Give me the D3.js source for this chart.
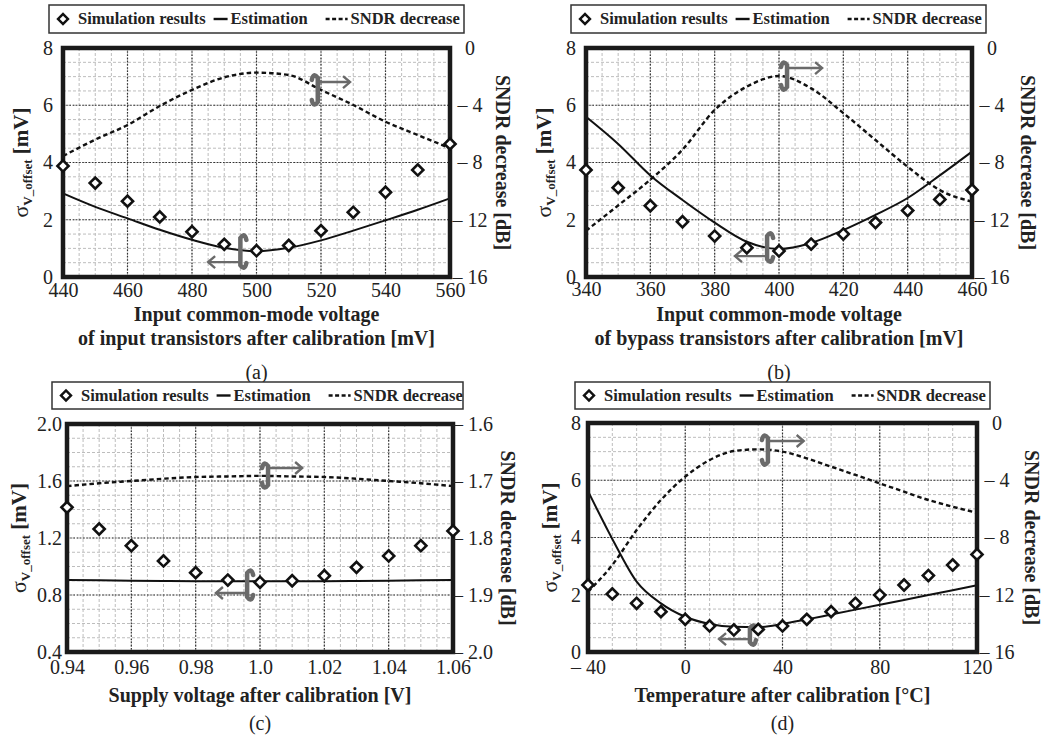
<!DOCTYPE html>
<html><head><meta charset="utf-8">
<script src="https://cdn.jsdelivr.net/npm/d3@7"></script>
<style>
body{margin:0;background:#fff}
svg{display:block}
text{font-family:"Liberation Serif","Times New Roman",serif;fill:#222}
</style>
</head><body>
<svg id="chart" width="1042" height="738"></svg>
<script>
// ---------- data ----------
// (a) input common-mode voltage of input transistors
const xA = [440,450,460,470,480,490,500,510,520,530,540,550,560];
const simA = [3.88,3.28,2.65,2.10,1.58,1.14,0.92,1.10,1.62,2.26,2.96,3.74,4.65];
const estA = [2.92,2.45,2.05,1.65,1.30,1.02,0.90,1.02,1.28,1.62,1.98,2.35,2.75];
const sndrA = [-7.55,-6.40,-5.38,-4.05,-2.93,-2.05,-1.72,-1.89,-2.93,-3.98,-5.15,-6.08,-7.00];
const xTicksA = [440,460,480,500,520,540,560];
const xLabelsA = ["440","460","480","500","520","540","560"];

// (b) input common-mode voltage of bypass transistors
const xB = [340,350,360,370,380,390,400,410,420,430,440,450,460];
const simB = [3.74,3.12,2.49,1.93,1.43,1.02,0.91,1.15,1.50,1.90,2.32,2.71,3.04];
const estB = [5.60,4.65,3.55,2.69,1.90,1.23,0.98,1.19,1.64,2.17,2.76,3.55,4.38];
const sndrB = [-12.77,-11.00,-9.20,-7.10,-4.33,-2.70,-1.96,-2.82,-4.55,-6.43,-8.30,-9.93,-10.74];
const xTicksB = [340,360,380,400,420,440,460];
const xLabelsB = ["340","360","380","400","420","440","460"];

// shared ticks for (a),(b),(d)
const yTicks8 = [0,2,4,6,8];
const yLabels8 = ["0","2","4","6","8"];
const rTicks16 = [0,-4,-8,-12,-16];
const rLabels16 = ["0","\u2013 4","\u2013 8","\u2013 12","\u2013 16"];

// (c) supply voltage
const xC = [0.94,0.95,0.96,0.97,0.98,0.99,1.00,1.01,1.02,1.03,1.04,1.05,1.06];
const simC = [1.415,1.263,1.146,1.039,0.957,0.905,0.889,0.900,0.935,0.994,1.074,1.146,1.250];
const estC = [0.905,0.903,0.900,0.898,0.897,0.896,0.896,0.896,0.897,0.898,0.900,0.903,0.905];
const sndrC = [-1.709,-1.704,-1.700,-1.696,-1.693,-1.692,-1.691,-1.692,-1.693,-1.696,-1.700,-1.704,-1.709];
const xTicksC = [0.94,0.96,0.98,1.00,1.02,1.04,1.06];
const xLabelsC = ["0.94","0.96","0.98","1.0","1.02","1.04","1.06"];
const yTicksC = [0.4,0.8,1.2,1.6,2.0];
const yLabelsC = ["0.4","0.8","1.2","1.6","2.0"];
const rTicksC = [-1.6,-1.7,-1.8,-1.9,-2.0];
const rLabelsC = ["\u2013 1.6","\u2013 1.7","\u2013 1.8","\u2013 1.9","\u2013 2.0"];

// (d) temperature
const xD = [-40,-30,-20,-10,0,10,20,30,40,50,60,70,80,90,100,110,120];
const simD = [2.34,2.03,1.70,1.41,1.14,0.91,0.77,0.79,0.91,1.14,1.41,1.70,1.99,2.34,2.67,3.04,3.41];
const estD = [5.62,3.95,2.46,1.70,1.23,0.98,0.88,0.87,0.98,1.14,1.31,1.48,1.65,1.82,1.99,2.16,2.33];
const sndrD = [-11.79,-9.92,-7.48,-5.38,-3.75,-2.59,-1.96,-1.84,-2.00,-2.47,-3.05,-3.63,-4.22,-4.80,-5.38,-5.85,-6.27];
const xTicksD = [-40,0,40,80,120];
const xLabelsD = ["\u2013 40","0","40","80","120"];

const legendLabels = ["Simulation results","Estimation","SNDR decrease"];

// ---------- layout ----------
// ind*: [x value, top y, bottom y, arrow y (left-axis units), arrow tip x value]
const panels = [
 {x:xA,sim:simA,est:estA,sndr:sndrA,L:63,R:450,T:48,B:277,xDom:[440,560],yDom:[0,8],rDom:[-16,0],
  xT:xTicksA,xL:xLabelsA,yT:yTicks8,yL:yLabels8,rT:rTicks16,rL:rLabels16,xMinor:5,yMinor:0.5,
  yPad:10,xPad:6,ltx:22,rtx:53,title:["Input common-mode voltage","of input transistors after calibration [mV]"],
  tY:[321,345],cap:"(a)",capY:379,leg:[49,5,415,28],
  indR:[519,7.06,6.01,6.81,529],indL:[495,1.47,0.31,0.52,485]},
 {x:xB,sim:simB,est:estB,sndr:sndrB,L:586,R:972,T:48,B:277,xDom:[340,460],yDom:[0,8],rDom:[-16,0],
  xT:xTicksB,xL:xLabelsB,yT:yTicks8,yL:yLabels8,rT:rTicks16,rL:rLabels16,xMinor:5,yMinor:0.5,
  yPad:10,xPad:5,ltx:545,rtx:56,title:["Input common-mode voltage","of bypass transistors after calibration [mV]"],
  tY:[321,345],cap:"(b)",capY:379,leg:[571,5,415,28],
  indR:[402.5,7.51,6.53,7.30,413.4],indL:[396.3,1.54,0.52,0.73,386.3]},
 {x:xC,sim:simC,est:estC,sndr:sndrC,L:67,R:453,T:424,B:652,xDom:[0.94,1.06],yDom:[0.4,2.0],rDom:[-2.0,-1.6],
  xT:xTicksC,xL:xLabelsC,yT:yTicksC,yL:yLabelsC,rT:rTicksC,rL:rLabelsC,xMinor:0.005,yMinor:0.1,
  yPad:5,xPad:8,ltx:20,rtx:55,title:["Supply voltage after calibration [V]"],
  tY:[702],cap:"(c)",capY:730,leg:[52,382,411,27],
  indR:[1.0025,1.726,1.551,1.691,1.0131],indL:[0.996,0.975,0.765,0.814,0.9863]},
 {x:xD,sim:simD,est:estD,sndr:sndrD,L:588,R:977,T:423,B:652,xDom:[-40,120],yDom:[0,8],rDom:[-16,0],
  xT:xTicksD,xL:xLabelsD,yT:yTicks8,yL:yLabels8,rT:rTicks16,rL:rLabels16,xMinor:10,yMinor:0.5,
  yPad:7,xPad:8,ltx:551,rtx:55,title:["Temperature after calibration [\u00b0C]"],
  tY:[702],cap:"(d)",capY:730,leg:[575,382,415,27],
  indR:[34,7.58,6.53,7.37,48.7],indL:[26.6,0.94,0.24,0.45,13.9]}
];

const svg = d3.select("#chart");
const GREY = "#6a6a6a";

function indicator(g, x, y0, y1, yA, xTip, dir){
  // dir = 1: arrow to the right (hooks to the left); -1: arrow to the left (hooks to the right)
  const h = -dir*6;
  g.append("path")
    .attr("d", `M${x+h},${y0+5} Q${x+h*0.7},${y0-3} ${x},${y0+3} L${x},${y1-3} Q${x+h*0.7},${y1+3} ${x+h},${y1-5}`)
    .attr("fill","none").attr("stroke",GREY).attr("stroke-width",4.5).attr("stroke-linecap","round");
  g.append("line").attr("x1",x).attr("x2",xTip).attr("y1",yA).attr("y2",yA)
    .attr("stroke",GREY).attr("stroke-width",2.4);
  g.append("path")
    .attr("d",`M${xTip-dir*7},${yA-6} L${xTip},${yA} L${xTip-dir*7},${yA+6}`)
    .attr("fill","none").attr("stroke",GREY).attr("stroke-width",2.4);
}

panels.forEach(p=>{
  const g = svg.append("g");
  const x = d3.scaleLinear().domain(p.xDom).range([p.L,p.R]);
  const y = d3.scaleLinear().domain(p.yDom).range([p.B,p.T]);
  const r = d3.scaleLinear().domain(p.rDom).range([p.B,p.T]);

  // minor grid
  const eps = 1e-9;
  const xm = d3.range(p.xDom[0], p.xDom[1]+eps, p.xMinor);
  const ym = d3.range(p.yDom[0], p.yDom[1]+eps, p.yMinor);
  g.append("g").selectAll("line").data(xm).join("line")
    .attr("x1",d=>x(d)).attr("x2",d=>x(d)).attr("y1",p.T).attr("y2",p.B)
    .attr("stroke","#bdbdbd").attr("stroke-width",1).attr("stroke-dasharray","3,2");
  g.append("g").selectAll("line").data(ym).join("line")
    .attr("y1",d=>y(d)).attr("y2",d=>y(d)).attr("x1",p.L).attr("x2",p.R)
    .attr("stroke","#bdbdbd").attr("stroke-width",1).attr("stroke-dasharray","3,2");
  // major grid
  g.append("g").selectAll("line").data(p.xT).join("line")
    .attr("x1",d=>x(d)).attr("x2",d=>x(d)).attr("y1",p.T).attr("y2",p.B)
    .attr("stroke","#333").attr("stroke-width",1.2).attr("stroke-dasharray","1.6,1.6");
  g.append("g").selectAll("line").data(p.yT).join("line")
    .attr("y1",d=>y(d)).attr("y2",d=>y(d)).attr("x1",p.L).attr("x2",p.R)
    .attr("stroke","#333").attr("stroke-width",1.2).attr("stroke-dasharray","1.6,1.6");

  // lines
  const pts = p.x.map((v,i)=>({x:v,e:p.est[i],s:p.sndr[i],m:p.sim[i]}));
  g.append("path").datum(pts)
    .attr("d", d3.line().x(d=>x(d.x)).y(d=>r(d.s)).curve(d3.curveMonotoneX))
    .attr("fill","none").attr("stroke","#111").attr("stroke-width",2.4).attr("stroke-dasharray","4.5,3");
  g.append("path").datum(pts)
    .attr("d", d3.line().x(d=>x(d.x)).y(d=>y(d.e)).curve(d3.curveMonotoneX))
    .attr("fill","none").attr("stroke","#111").attr("stroke-width",2);

  // indicators
  const iR = p.indR, iL = p.indL;
  indicator(g, x(iR[0]), y(iR[1]), y(iR[2]), y(iR[3]), x(iR[4]), 1);
  indicator(g, x(iL[0]), y(iL[1]), y(iL[2]), y(iL[3]), x(iL[4]), -1);

  // border
  g.append("rect").attr("x",p.L).attr("y",p.T).attr("width",p.R-p.L).attr("height",p.B-p.T)
    .attr("fill","none").attr("stroke","#1a1a1a").attr("stroke-width",4.5);

  // markers
  g.append("g").selectAll("path").data(pts).join("path")
    .attr("transform",d=>`translate(${x(d.x)},${y(d.m)}) rotate(45)`)
    .attr("d", d3.symbol(d3.symbolSquare, 62)())
    .attr("fill","#fff").attr("stroke","#111").attr("stroke-width",2.6);

  // axes
  const ax = g.append("g").attr("transform",`translate(0,${p.B})`)
    .call(d3.axisBottom(x).tickValues(p.xT).tickFormat((d,i)=>p.xL[i]).tickSize(0).tickPadding(p.xPad));
  const ay = g.append("g").attr("transform",`translate(${p.L},0)`)
    .call(d3.axisLeft(y).tickValues(p.yT).tickFormat((d,i)=>p.yL[i]).tickSize(0).tickPadding(p.yPad));
  const ar = g.append("g").attr("transform",`translate(${p.R},0)`)
    .call(d3.axisRight(r).tickValues(p.rT).tickFormat((d,i)=>p.rL[i]).tickSize(0).tickPadding(0));
  [ax,ay,ar].forEach(a=>{
    a.select(".domain").remove();
    a.attr("font-size",20).attr("font-family","'Liberation Serif',serif");
    a.selectAll("text").attr("fill","#222");
  });
  ar.selectAll("text").attr("text-anchor","middle").attr("x",20);

  // axis titles
  const lt = g.append("text").attr("transform",`translate(${p.ltx},${(p.T+p.B)/2}) rotate(-90)`)
    .attr("text-anchor","middle").attr("dy","0.35em").attr("font-weight","bold");
  lt.append("tspan").attr("font-size",22).attr("font-weight","normal").text("\u03c3");
  lt.append("tspan").attr("font-size",13).attr("dy",4).text("V_offset");
  lt.append("tspan").attr("font-size",21).attr("dy",-4).text(" [mV]");

  g.append("text").attr("transform",`translate(${p.R+p.rtx},${(p.T+p.B)/2}) rotate(90)`)
    .attr("text-anchor","middle").attr("dy","0.35em").attr("font-weight","bold").attr("font-size",20)
    .text("SNDR decrease [dB]");

  p.title.forEach((t,i)=>{
    g.append("text").attr("x",(p.L+p.R)/2).attr("y",p.tY[i]).attr("text-anchor","middle")
      .attr("font-weight","bold").attr("font-size",20).text(t);
  });
  g.append("text").attr("x",(p.L+p.R)/2).attr("y",p.capY).attr("text-anchor","middle")
    .attr("font-size",20).text(p.cap);

  // legend
  const [lx,ly,lw,lh] = p.leg;
  const lg = g.append("g");
  lg.append("rect").attr("x",lx).attr("y",ly).attr("width",lw).attr("height",lh)
    .attr("fill","#fff").attr("stroke","#333").attr("stroke-width",1.5);
  const cy = ly+lh/2;
  lg.append("path").attr("transform",`translate(${lx+14},${cy}) rotate(45)`)
    .attr("d", d3.symbol(d3.symbolSquare, 50)()).attr("fill","#fff").attr("stroke","#111").attr("stroke-width",2.4);
  const t1 = lg.append("text").attr("x",lx+29).attr("y",cy).attr("dy","0.33em")
    .attr("font-weight","bold").attr("font-size",16.5).text(legendLabels[0]);
  const w1 = t1.node().getComputedTextLength();
  const s2 = lx+29+w1+8;
  lg.append("line").attr("x1",s2).attr("x2",s2+14).attr("y1",cy).attr("y2",cy).attr("stroke","#111").attr("stroke-width",2.4);
  const t2 = lg.append("text").attr("x",s2+17).attr("y",cy).attr("dy","0.33em")
    .attr("font-weight","bold").attr("font-size",16.5).text(legendLabels[1]);
  const w2 = t2.node().getComputedTextLength();
  const s3 = s2+17+w2+18;
  lg.append("line").attr("x1",s3).attr("x2",s3+22).attr("y1",cy).attr("y2",cy).attr("stroke","#111")
    .attr("stroke-width",2.4).attr("stroke-dasharray","4,2.5");
  lg.append("text").attr("x",s3+25).attr("y",cy).attr("dy","0.33em")
    .attr("font-weight","bold").attr("font-size",16.5).text(legendLabels[2]);
});
</script>
</body></html>
